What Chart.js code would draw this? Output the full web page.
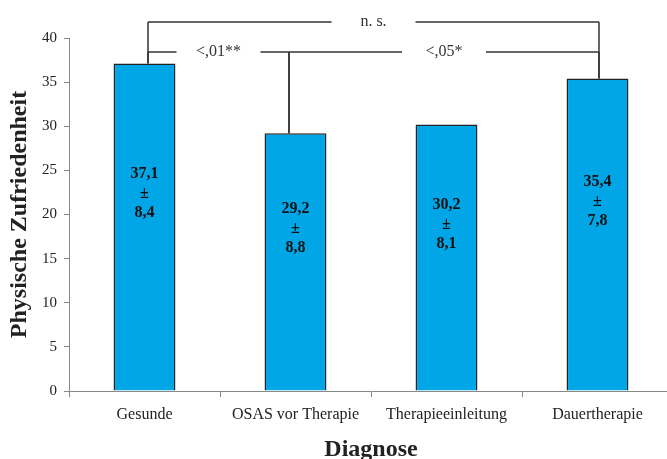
<!DOCTYPE html>
<html>
<head>
<meta charset="utf-8">
<script src="https://cdn.jsdelivr.net/npm/chart.js@4/dist/chart.umd.min.js"></script>
<style>
html,body{margin:0;padding:0;background:#fff;overflow:hidden;}
#wrap{width:680px;height:459px;}
</style>
</head>
<body>
<div id="wrap"><canvas id="c" width="680" height="459"></canvas></div>
<script>
const categories = ['Gesunde', 'OSAS vor Therapie', 'Therapieeinleitung', 'Dauertherapie'];
const means = [37.1, 29.2, 30.2, 35.4];
const sds = [8.4, 8.8, 8.1, 7.8];
const yMin = 0, yMax = 40, yStep = 5;
const yTitle = 'Physische Zufriedenheit';
const xTitle = 'Diagnose';
// significance comparisons: [from index, to index, label]
const sigTop = [0, 3, 'n. s.'];
const sigLow = [[0, 1, '<,01**'], [1, 3, '<,05*']];

const fmt = v => v.toFixed(1).replace('.', ',');
const SERIF = '"Liberation Serif", "Times New Roman", serif';
const INK = '#222';

const overlay = {
  id: 'overlay',
  afterDraw(chart) {
    const ctx = chart.ctx, x = chart.scales.x, y = chart.scales.y, ca = chart.chartArea;
    ctx.save();
    // small axis overhang at origin
    ctx.strokeStyle = '#888';
    ctx.lineWidth = 1;
    ctx.beginPath(); ctx.moveTo(ca.left - 4, Math.round(ca.bottom) + 0.5); ctx.lineTo(ca.left, Math.round(ca.bottom) + 0.5); ctx.stroke();

    // axis titles
    ctx.fillStyle = INK;
    ctx.font = 'bold 24px ' + SERIF;
    ctx.textAlign = 'center';
    ctx.textBaseline = 'alphabetic';
    ctx.fillText(xTitle, (ca.left + ca.right) / 2, 456);
    ctx.save();
    ctx.translate(26, (ca.top + ca.bottom) / 2);
    ctx.rotate(-Math.PI / 2);
    ctx.fillText(yTitle, 0, 0);
    ctx.restore();

    // value labels in bars
    ctx.font = 'bold 16px ' + SERIF;
    ctx.textBaseline = 'middle';
    ctx.fillStyle = '#111';
    means.forEach((m, i) => {
      const cx = x.getPixelForValue(i);
      const cy = (y.getPixelForValue(m) + y.getPixelForValue(0)) / 2 - 33;
      ctx.fillText(fmt(m), cx, cy - 20);
      ctx.fillText('±', cx, cy);
      ctx.fillText(fmt(sds[i]), cx, cy + 19);
    });

    // significance brackets
    const legOff = [3.5, -6.5, 0, 1.5];
    const px = i => x.getPixelForValue(i) + legOff[i];
    const top = i => y.getPixelForValue(means[i]);
    const yTop = ca.top - 16, yLow = ca.top + 14, gap = 42;
    ctx.strokeStyle = '#333';
    ctx.lineWidth = 1.5;
    ctx.font = '16px ' + SERIF;
    ctx.fillStyle = '#333';
    const seg = (x1, y1, x2, y2) => { ctx.beginPath(); ctx.moveTo(x1, y1); ctx.lineTo(x2, y2); ctx.stroke(); };
    // top bracket
    {
      const a = px(sigTop[0]), b = px(sigTop[1]), mid = (a + b) / 2;
      seg(a, yTop, mid - gap, yTop);
      seg(mid + gap, yTop, b, yTop);
      seg(a, yTop, a, top(sigTop[0]));
      seg(b, yTop, b, top(sigTop[1]));
      ctx.fillText(sigTop[2], mid, yTop);
    }
    // lower bracket
    sigLow.forEach(([f, t, lab]) => {
      const a = px(f), b = px(t), mid = (a + b) / 2;
      seg(a, yLow, mid - gap, yLow);
      seg(mid + gap, yLow, b, yLow);
      seg(a, yLow, a, top(f));
      seg(b, yLow, b, top(t));
      ctx.fillText(lab, mid, yLow);
    });
    ctx.restore();
  }
};

new Chart(document.getElementById('c'), {
  type: 'bar',
  data: {
    labels: categories,
    datasets: [{
      data: means,
      backgroundColor: '#00A6E6',
      borderColor: '#222',
      borderWidth: 1.5,
      categoryPercentage: 1,
      barPercentage: 0.41
    }]
  },
  options: {
    responsive: false,
    animation: false,
    devicePixelRatio: 1,
    layout: { padding: { top: 38, right: 7, left: 0, bottom: 0 } },
    plugins: { legend: { display: false }, tooltip: { enabled: false } },
    scales: {
      x: {
        grid: { display: true, drawOnChartArea: false, offset: true, tickLength: 6, color: '#888' },
        border: { color: '#888', width: 1 },
        ticks: { color: INK, font: { family: SERIF, size: 16 }, padding: 8, maxRotation: 0 },
        afterFit(s) { s.height = 68; }
      },
      y: {
        min: yMin, max: yMax,
        grid: { display: true, drawOnChartArea: false, tickLength: 5, color: '#888' },
        border: { color: '#888', width: 1 },
        ticks: { stepSize: yStep, color: INK, font: { family: SERIF, size: 15 }, padding: 7 },
        afterFit(s) { s.width = 69; }
      }
    }
  },
  plugins: [overlay]
});
</script>
</body>
</html>
